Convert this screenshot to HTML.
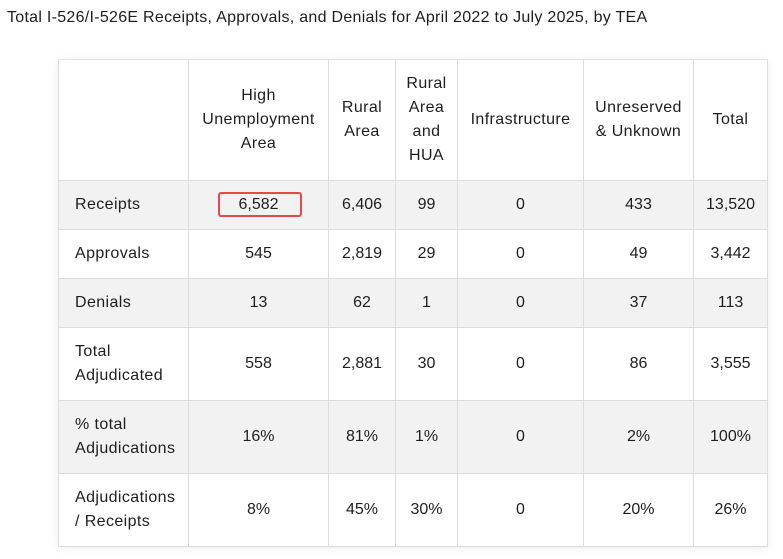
<!DOCTYPE html>
<html>
<head>
<meta charset="utf-8">
<style>
  html,body{margin:0;padding:0;background:#fff;}
  body{width:783px;height:559px;position:relative;overflow:hidden;font-family:"Liberation Sans",Arial,sans-serif;color:#1e1e1e;}
  .title{position:absolute;left:7px;top:8px;font-size:16px;letter-spacing:0.28px;line-height:20px;white-space:nowrap;color:#1e1e1e;}
  .wrap{position:absolute;left:58px;top:59px;width:709px;height:487px;box-shadow:0 2px 10px rgba(0,0,0,0.08);background:#fff;}
  table{border-collapse:collapse;table-layout:fixed;width:709px;height:487px;font-size:16px;letter-spacing:0.4px;}
  td,th{border:1px solid #dcdcdc;padding:0;text-align:center;vertical-align:middle;font-weight:normal;line-height:24px;color:#1e1e1e;}
  td{letter-spacing:0;}
  td.l{text-align:left;padding-left:16px;letter-spacing:0.4px;}
  tr.g td{background:#f2f2f2;}
  tr:first-child th{border-top:1px solid #e2e2e2;}
  .box{position:absolute;left:218px;top:192px;width:80px;height:21px;border:2.5px solid #e8474c;border-radius:3px;}
</style>
</head>
<body>
<div class="title">Total I-526/I-526E Receipts, Approvals, and Denials for April 2022 to July 2025, by TEA</div>
<div class="wrap">
<table>
  <colgroup>
    <col style="width:130px"><col style="width:140px"><col style="width:67px"><col style="width:62px"><col style="width:126px"><col style="width:110px"><col style="width:74px">
  </colgroup>
  <tr style="height:121px">
    <th></th>
    <th>High<br>Unemployment<br>Area</th>
    <th>Rural<br>Area</th>
    <th>Rural<br>Area<br>and<br>HUA</th>
    <th>Infrastructure</th>
    <th>Unreserved<br>&amp; Unknown</th>
    <th>Total</th>
  </tr>
  <tr class="g" style="height:49px">
    <td class="l">Receipts</td><td>6,582</td><td>6,406</td><td>99</td><td>0</td><td>433</td><td>13,520</td>
  </tr>
  <tr style="height:49px">
    <td class="l">Approvals</td><td>545</td><td>2,819</td><td>29</td><td>0</td><td>49</td><td>3,442</td>
  </tr>
  <tr class="g" style="height:49px">
    <td class="l">Denials</td><td>13</td><td>62</td><td>1</td><td>0</td><td>37</td><td>113</td>
  </tr>
  <tr style="height:73px">
    <td class="l">Total<br>Adjudicated</td><td>558</td><td>2,881</td><td>30</td><td>0</td><td>86</td><td>3,555</td>
  </tr>
  <tr class="g" style="height:73px">
    <td class="l">% total<br>Adjudications</td><td>16%</td><td>81%</td><td>1%</td><td>0</td><td>2%</td><td>100%</td>
  </tr>
  <tr style="height:73px">
    <td class="l">Adjudications<br>/ Receipts</td><td>8%</td><td>45%</td><td>30%</td><td>0</td><td>20%</td><td>26%</td>
  </tr>
</table>
</div>
<div class="box"></div>
</body>
</html>
